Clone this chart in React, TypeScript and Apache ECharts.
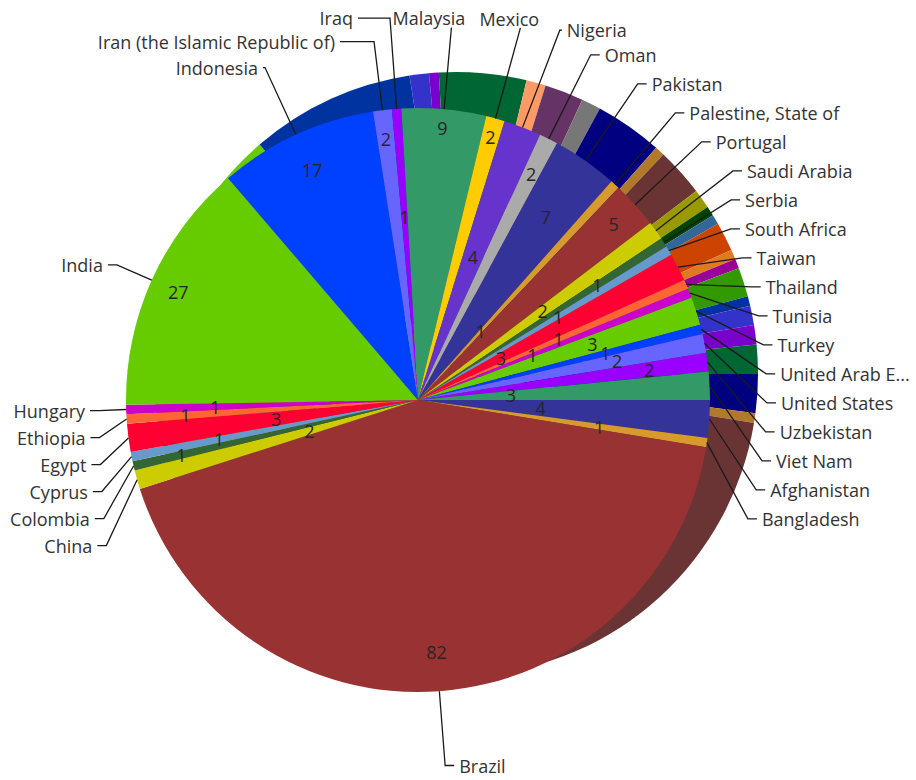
import React, { useEffect, useRef } from "react";
import * as echarts from "echarts";

// ---- data ----
const countries = [
  "Afghanistan", "Bangladesh", "Brazil", "China", "Colombia", "Cyprus", "Egypt",
  "Ethiopia", "Hungary", "India", "Indonesia", "Iran (the Islamic Republic of)",
  "Iraq", "Malaysia", "Mexico", "Nigeria", "Oman", "Pakistan", "Palestine, State of",
  "Portugal", "Saudi Arabia", "Serbia", "South Africa", "Taiwan", "Thailand",
  "Tunisia", "Turkey", "United Arab E...", "United States", "Uzbekistan", "Viet Nam",
];
const counts = [
  4, 1, 82, 2, 1, 1, 3,
  1, 1, 27, 17, 2,
  1, 9, 2, 4, 2, 7, 1,
  5, 2, 1, 1, 3, 1,
  1, 3, 1, 2, 2, 3,
];

// ---- styles ----
const FACE = [
  "#333399", "#d69a2d", "#993333", "#cccc00", "#336633", "#6699cc", "#ff0033",
  "#ff6633", "#cc00cc", "#66cc00", "#0040ff", "#6666ff", "#9900ff", "#339966",
  "#ffcc00", "#6633cc", "#aaaaaa",
];
const SIDE = [
  "#000080", "#b07a2a", "#6b3434", "#999900", "#004400", "#336699", "#cc4400",
  "#e07a20", "#990099", "#339900", "#0033a0", "#3333cc", "#7a00cc", "#006633",
  "#ff9966", "#663366", "#777777",
];
const sideOverride: Record<string, string> = { India: "#66cc00" };

// radius (px) at which each value label sits inside its slice
const valueLabelRadius = [
  120, 176, 253, 113, 242, 199, 140,
  226, 198, 257, 247, 263,
  176, 265, 266, 145, 251, 221, 89,
  262, 145, 206, 160, 88, 146,
  118, 175, 190, 203, 232, 89,
];

// per-label leader-line / label-box tweaks
type Tweak = { len?: number; len2?: number; lh?: number; offset?: number[] };
const labelTweak: Record<string, Tweak> = {
  Iraq: { len: 91, len2: 32, lh: 10 },
  "Iran (the Islamic Republic of)": { len: 69, len2: 34, lh: 10 },
  Indonesia: { len: 74, len2: 2 },
  India: { len: 37 },
  Hungary: { len: 32, lh: 25 },
  Ethiopia: { len: 32, lh: 25 },
  Egypt: { len: 32, lh: 25 },
  Cyprus: { len: 32, lh: 25 },
  Colombia: { len: 32, lh: 25 },
  China: { len: 32, lh: 25 },
  Malaysia: { len: 82, len2: 0, lh: 10, offset: [-64, -9] },
  Mexico: { len: 94, len2: 0, lh: 10, offset: [-46, -9] },
  Nigeria: { len: 104, len2: 2, lh: 10 },
  Oman: { len: 94 },
  Pakistan: { len: 94 },
  "Palestine, State of": { len: 97 },
  Portugal: { len: 94 },
  "Saudi Arabia": { len: 104 },
  Serbia: { len: 79 },
  Brazil: { len: 79 },
};
// labels laid out on their own (outside the overlap-avoidance stack)
const soloLabels = ["Iraq", "Iran (the Islamic Republic of)", "Malaysia", "Mexico", "Nigeria"];

const FONT = "Open Sans";
const FRONT_CENTER = [418, 400];
const FRONT_R = 292;
const BACK_CENTER = [456, 374];
const BACK_R = 302;

const pieBase = {
  type: "pie",
  startAngle: 0,
  clockwise: true,
  silent: true,
  emphasis: { disabled: true },
};

function nameSeries(shown: (c: string) => boolean, avoid: boolean) {
  return {
    ...pieBase,
    center: FRONT_CENTER,
    radius: [0, FRONT_R],
    z: 4,
    avoidLabelOverlap: avoid,
    itemStyle: { color: "rgba(0,0,0,0)", borderWidth: 0 },
    labelLayout: { hideOverlap: false },
    label: {
      show: true,
      position: "outside",
      fontFamily: FONT,
      fontSize: 18,
      color: "#333333",
      lineHeight: 27,
      overflow: "none",
    },
    labelLine: {
      show: true,
      length: 62,
      length2: 9,
      lineStyle: { color: "#1a1a1a", width: 1.3 },
    },
    data: countries.map((c, i) => {
      const t = labelTweak[c] || {};
      const on = shown(c);
      const label: any = { show: on };
      if (t.lh != null) label.lineHeight = t.lh;
      if (t.offset) label.offset = t.offset;
      const labelLine: any = { show: on };
      if (t.len != null) labelLine.length = t.len;
      if (t.len2 != null) labelLine.length2 = t.len2;
      return { name: c, value: counts[i], label, labelLine };
    }),
  };
}

export default function App() {
  const ref = useRef<HTMLDivElement>(null);
  useEffect(() => {
    if (!ref.current) return;
    const chart = echarts.init(ref.current, undefined, { renderer: "svg" });

    const ringKeys = Array.from(
      new Set(valueLabelRadius.map((r) => Math.round(r / 10) * 10))
    );
    const ringSeries = ringKeys.map((rk) => ({
      ...pieBase,
      center: FRONT_CENTER,
      radius: [rk - 8, rk + 8],
      z: 3,
      avoidLabelOverlap: false,
      itemStyle: { color: "rgba(0,0,0,0)", borderWidth: 0 },
      labelLine: { show: false },
      data: countries.map((c, i) => ({
        name: c,
        value: counts[i],
        label: {
          show: Math.round(valueLabelRadius[i] / 10) * 10 === rk,
          position: "inside",
          formatter: "{c}",
          fontFamily: FONT,
          fontSize: 18,
          color: "#262626",
        },
      })),
    }));

    chart.setOption({
      animation: false,
      backgroundColor: "#ffffff",
      series: [
        {
          ...pieBase,
          center: BACK_CENTER,
          radius: [0, BACK_R],
          z: 1,
          itemStyle: { borderWidth: 0 },
          label: { show: false },
          labelLine: { show: false },
          data: countries.map((c, i) => ({
            name: c,
            value: counts[i],
            itemStyle: { color: sideOverride[c] || SIDE[i % SIDE.length] },
          })),
        },
        {
          ...pieBase,
          center: FRONT_CENTER,
          radius: [0, FRONT_R],
          z: 2,
          itemStyle: { borderWidth: 0 },
          label: { show: false },
          labelLine: { show: false },
          data: countries.map((c, i) => ({
            name: c,
            value: counts[i],
            itemStyle: { color: FACE[i % FACE.length] },
          })),
        },
        ...ringSeries,
        nameSeries((c) => soloLabels.indexOf(c) < 0, true),
        ...soloLabels.map((s) => nameSeries((c) => c === s, false)),
      ],
    } as any);
    return () => chart.dispose();
  }, []);
  return (
    <div
      ref={ref}
      style={{ position: "absolute", left: 0, top: 0, width: 916, height: 780 }}
    />
  );
}
